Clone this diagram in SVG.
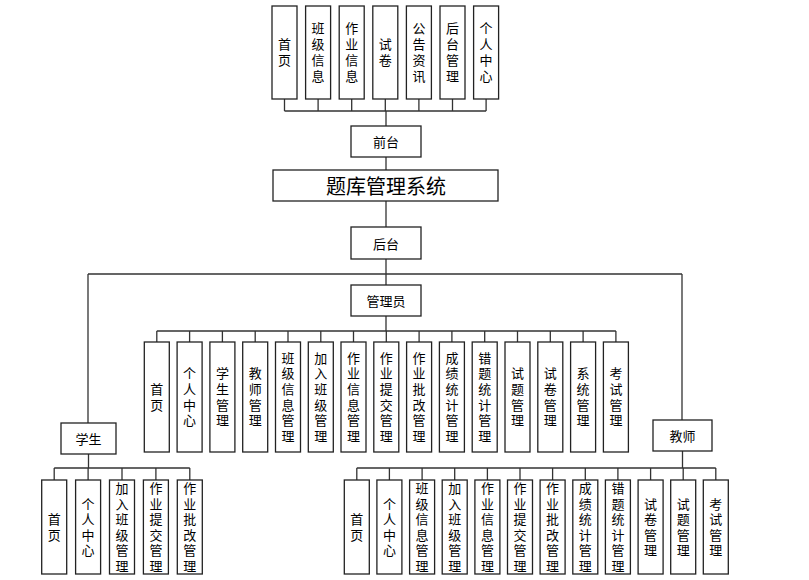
<svg xmlns="http://www.w3.org/2000/svg" width="809" height="580" viewBox="0 0 809 580">
<style>
rect{fill:#fff;stroke:#222;stroke-width:1.3}
text{font-family:"Noto Sans CJK SC","Noto Sans",sans-serif;font-size:13px;fill:#000;text-anchor:middle;dominant-baseline:central}
.t{font-size:20px}
.v{writing-mode:vertical-rl;text-orientation:upright;letter-spacing:2.7px}
.w{writing-mode:vertical-rl;text-orientation:upright;letter-spacing:2.6px}
.u{writing-mode:vertical-rl;text-orientation:upright;letter-spacing:3px}
#connectors path{fill:none;stroke:#333;stroke-width:1.3}
</style>
<rect x="0" y="0" width="809" height="580" style="fill:#fff;stroke:none"/>
<g id="connectors">
<path d="M284.5 99V111M318.1 99V111M351.7 99V111M385.3 99V111M418.9 99V111M452.5 99V111M486.1 99V111M284.5 111H486.1M386 111V126"/>
<path d="M386 157V170M386 201V227M386 259V285M88 274H682M88 274V423M682 274V420"/>
<path d="M386 316V331M156.8 331H615.9M156.8 331V342M189.6 331V342M222.4 331V342M255.2 331V342M288 331V342M320.8 331V342M353.5 331V342M386.3 331V342M419.1 331V342M451.9 331V342M484.7 331V342M517.5 331V342M550.3 331V342M583.1 331V342M615.9 331V342"/>
<path d="M88.5 454V468M54.2 468H189.8M54.2 468V480M88.1 468V480M122 468V480M155.9 468V480M189.8 468V480"/>
<path d="M682.5 451V468M356.8 468H715.8M356.8 468V480M389.4 468V480M422.1 468V480M454.7 468V480M487.4 468V480M520 468V480M552.6 468V480M585.3 468V480M617.9 468V480M650.6 468V480M683.2 468V480M715.8 468V480"/>
</g>
<g id="top-items">
<g id="t1"><rect x="272" y="6" width="25" height="93"/><text class="u" x="284.5" y="54">首页</text></g>
<g id="t2"><rect x="305.6" y="6" width="25" height="93"/><text class="u" x="318.1" y="54">班级信息</text></g>
<g id="t3"><rect x="339.2" y="6" width="25" height="93"/><text class="u" x="351.7" y="54">作业信息</text></g>
<g id="t4"><rect x="372.8" y="6" width="25" height="93"/><text class="u" x="385.3" y="54">试卷</text></g>
<g id="t5"><rect x="406.4" y="6" width="25" height="93"/><text class="u" x="418.9" y="54">公告资讯</text></g>
<g id="t6"><rect x="440" y="6" width="25" height="93"/><text class="u" x="452.5" y="54">后台管理</text></g>
<g id="t7"><rect x="473.6" y="6" width="25" height="93"/><text class="u" x="486.1" y="54">个人中心</text></g>
</g>
<g id="qiantai"><rect x="351" y="126" width="70" height="31"/><text x="386" y="141.5">前台</text></g>
<g id="title"><rect x="273" y="170" width="225" height="31"/><text class="t" x="386" y="185.5">题库管理系统</text></g>
<g id="houtai"><rect x="351" y="227" width="70" height="32"/><text x="386" y="243">后台</text></g>
<g id="admin"><rect x="351" y="285" width="70" height="31"/><text x="386" y="300.5">管理员</text></g>
<g id="admin-items">
<g id="a1"><rect x="144.3" y="342" width="25" height="110"/><text class="v" x="156.8" y="398.3">首页</text></g>
<g id="a2"><rect x="177.1" y="342" width="25" height="110"/><text class="v" x="189.6" y="398.3">个人中心</text></g>
<g id="a3"><rect x="209.9" y="342" width="25" height="110"/><text class="v" x="222.4" y="398.3">学生管理</text></g>
<g id="a4"><rect x="242.7" y="342" width="25" height="110"/><text class="v" x="255.2" y="398.3">教师管理</text></g>
<g id="a5"><rect x="275.5" y="342" width="25" height="110"/><text class="v" x="288" y="398.3">班级信息管理</text></g>
<g id="a6"><rect x="308.3" y="342" width="25" height="110"/><text class="v" x="320.8" y="398.3">加入班级管理</text></g>
<g id="a7"><rect x="341" y="342" width="25" height="110"/><text class="v" x="353.5" y="398.3">作业信息管理</text></g>
<g id="a8"><rect x="373.8" y="342" width="25" height="110"/><text class="v" x="386.3" y="398.3">作业提交管理</text></g>
<g id="a9"><rect x="406.6" y="342" width="25" height="110"/><text class="v" x="419.1" y="398.3">作业批改管理</text></g>
<g id="a10"><rect x="439.4" y="342" width="25" height="110"/><text class="v" x="451.9" y="398.3">成绩统计管理</text></g>
<g id="a11"><rect x="472.2" y="342" width="25" height="110"/><text class="v" x="484.7" y="398.3">错题统计管理</text></g>
<g id="a12"><rect x="505" y="342" width="25" height="110"/><text class="v" x="517.5" y="398.3">试题管理</text></g>
<g id="a13"><rect x="537.8" y="342" width="25" height="110"/><text class="v" x="550.3" y="398.3">试卷管理</text></g>
<g id="a14"><rect x="570.6" y="342" width="25" height="110"/><text class="v" x="583.1" y="398.3">系统管理</text></g>
<g id="a15"><rect x="603.4" y="342" width="25" height="110"/><text class="v" x="615.9" y="398.3">考试管理</text></g>
</g>
<g id="student"><rect x="61" y="423" width="55" height="31"/><text x="88.5" y="438.5">学生</text></g>
<g id="student-items">
<g id="s1"><rect x="41.7" y="480" width="25" height="94"/><text class="w" x="54.2" y="528.3">首页</text></g>
<g id="s2"><rect x="75.6" y="480" width="25" height="94"/><text class="w" x="88.1" y="528.3">个人中心</text></g>
<g id="s3"><rect x="109.5" y="480" width="25" height="94"/><text class="w" x="122" y="528.3">加入班级管理</text></g>
<g id="s4"><rect x="143.4" y="480" width="25" height="94"/><text class="w" x="155.9" y="528.3">作业提交管理</text></g>
<g id="s5"><rect x="177.3" y="480" width="25" height="94"/><text class="w" x="189.8" y="528.3">作业批改管理</text></g>
</g>
<g id="teacher"><rect x="653" y="420" width="59" height="31"/><text x="682.5" y="435.5">教师</text></g>
<g id="teacher-items">
<g id="e1"><rect x="344.3" y="480" width="25" height="94"/><text class="w" x="356.8" y="528.3">首页</text></g>
<g id="e2"><rect x="376.9" y="480" width="25" height="94"/><text class="w" x="389.4" y="528.3">个人中心</text></g>
<g id="e3"><rect x="409.6" y="480" width="25" height="94"/><text class="w" x="422.1" y="528.3">班级信息管理</text></g>
<g id="e4"><rect x="442.2" y="480" width="25" height="94"/><text class="w" x="454.7" y="528.3">加入班级管理</text></g>
<g id="e5"><rect x="474.9" y="480" width="25" height="94"/><text class="w" x="487.4" y="528.3">作业信息管理</text></g>
<g id="e6"><rect x="507.5" y="480" width="25" height="94"/><text class="w" x="520" y="528.3">作业提交管理</text></g>
<g id="e7"><rect x="540.1" y="480" width="25" height="94"/><text class="w" x="552.6" y="528.3">作业批改管理</text></g>
<g id="e8"><rect x="572.8" y="480" width="25" height="94"/><text class="w" x="585.3" y="528.3">成绩统计管理</text></g>
<g id="e9"><rect x="605.4" y="480" width="25" height="94"/><text class="w" x="617.9" y="528.3">错题统计管理</text></g>
<g id="e10"><rect x="638.1" y="480" width="25" height="94"/><text class="w" x="650.6" y="528.3">试卷管理</text></g>
<g id="e11"><rect x="670.7" y="480" width="25" height="94"/><text class="w" x="683.2" y="528.3">试题管理</text></g>
<g id="e12"><rect x="703.3" y="480" width="25" height="94"/><text class="w" x="715.8" y="528.3">考试管理</text></g>
</g>
</svg>
